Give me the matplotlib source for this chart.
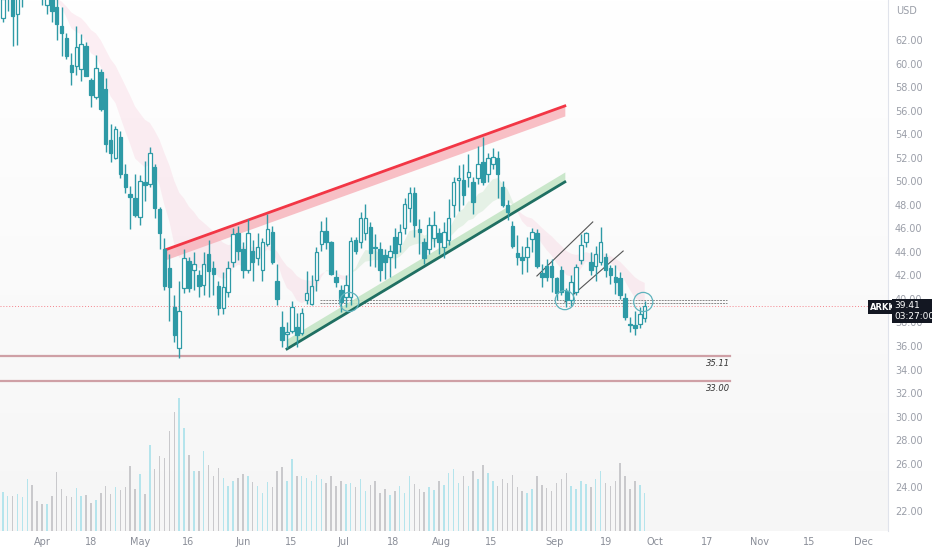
import matplotlib
matplotlib.use("Agg")
import matplotlib.pyplot as plt
import numpy as np
import pandas as pd
from matplotlib.colors import LinearSegmentedColormap

# ---------------- data ----------------
bar_index = list(range(-8, 124))
opens = [63.9,66.0,65.5,64.2,65.8,67.0,67.5,67.0,66.5,65.0,66.0,
         64.8,63.2,62.2,59.9,59.8,59.5,61.5,58.6,57.2,59.3,57.8,53.5,52.0,53.8,50.6,48.9,48.6,47.0,49.9,49.8,51.2,47.6,
         44.2,42.6,39.3,35.8,40.9,43.2,42.5,42.0,41.2,43.8,42.6,41.1,39.2,40.6,43.1,45.6,44.2,42.5,44.1,43.5,42.5,44.7,45.7,41.5,
         37.6,37.0,37.3,37.6,37.1,39.9,39.6,41.6,44.7,45.8,44.8,41.9,40.8,40.2,40.2,45.0,44.8,45.6,46.1,44.4,44.2,43.7,43.6,45.3,
         44.7,46.0,47.7,49.0,45.9,44.8,44.2,45.2,45.6,44.4,45.0,48.0,50.1,50.1,50.4,49.9,50.3,51.6,50.6,51.5,52.0,49.5,48.0,
         46.2,43.9,43.6,43.6,45.1,45.6,42.2,42.8,42.8,41.8,42.5,40.7,39.9,40.6,43.3,44.8,43.1,42.8,43.1,43.6,42.6,41.9,41.8,40.1,
         37.9,37.8,37.9,38.4]
highs = [66.0,67.0,66.5,66.0,67.0,68.0,68.5,67.5,67.0,66.5,66.5,
         65.5,64.8,62.6,60.9,63.2,62.5,61.8,58.8,60.7,59.5,58.8,54.9,54.7,54.3,51.5,49.6,50.6,50.5,51.7,52.9,51.5,47.8,
         45.2,43.8,40.3,41.5,44.2,43.6,44.0,42.5,44.0,45.0,43.2,41.5,42.3,43.2,46.0,46.2,44.8,46.8,45.0,45.6,45.2,47.2,46.2,43.0,
         39.0,38.0,39.8,38.8,39.2,42.4,42.0,44.4,46.6,47.0,44.9,42.5,41.2,42.0,45.3,45.3,47.4,48.1,46.5,45.5,44.8,44.2,44.6,46.0,
         46.4,48.6,49.5,49.5,46.8,45.2,47.0,47.5,46.0,46.5,48.5,50.4,51.4,51.5,52.3,50.4,53.0,53.8,52.4,52.8,52.6,50.0,48.4,
         46.6,45.4,44.5,45.3,46.0,45.9,43.0,43.4,43.4,41.9,42.8,40.9,42.0,43.0,45.5,45.7,44.0,44.5,46.1,43.9,42.9,42.9,42.3,40.5,
         38.5,39.0,39.3,39.8]
lows = [63.5,64.5,61.5,61.6,64.8,66.0,66.5,66.0,65.0,64.2,63.5,
        62.0,60.6,60.4,58.2,59.0,58.5,58.9,56.3,57.0,56.0,52.5,51.6,51.9,50.3,49.0,45.9,47.0,46.3,48.3,49.5,46.9,44.2,
        40.8,38.1,36.3,35.0,40.5,40.6,40.8,40.2,40.3,40.2,40.3,38.6,38.7,40.2,42.7,43.3,41.8,42.2,41.5,42.9,41.5,44.5,43.0,39.5,
        35.9,35.8,37.1,35.9,36.9,39.6,39.5,40.7,44.1,44.2,42.0,41.0,38.9,39.3,39.5,43.8,44.3,45.0,42.8,42.7,41.5,41.7,41.9,42.6,
        44.0,45.5,46.5,45.3,43.8,43.0,43.8,44.4,43.8,43.5,44.6,47.0,47.5,48.0,49.5,47.2,49.8,49.7,49.9,51.0,48.6,47.8,46.7,
        44.3,42.9,42.1,42.3,44.0,42.6,41.0,41.5,40.6,39.9,40.3,39.3,39.4,40.3,43.0,44.4,42.0,41.5,42.9,41.9,41.3,40.4,40.0,38.2,
        37.2,36.9,37.5,38.0]
closes = [65.5,66.5,64.0,65.8,66.5,67.5,67.0,66.2,65.6,66.0,64.5,
          63.4,62.6,60.6,59.3,61.4,61.7,58.9,57.3,59.6,56.1,53.2,52.4,54.4,50.6,49.5,48.7,47.1,50.0,49.7,52.4,47.7,45.6,
          41.1,41.0,36.9,39.0,43.5,40.9,43.0,41.1,43.0,42.4,42.1,39.2,41.0,42.6,45.5,44.1,42.5,45.6,43.1,44.4,44.8,45.9,43.1,40.0,
          36.5,37.2,39.3,36.9,38.8,40.5,41.1,44.0,45.8,44.8,42.1,41.4,39.7,41.2,44.9,44.1,46.9,46.9,43.9,44.3,42.5,43.1,44.1,43.9,
          45.7,48.1,49.0,46.3,45.7,43.5,46.3,46.3,44.8,45.7,46.9,49.9,50.3,48.8,50.8,48.2,51.5,49.9,52.0,52.1,50.6,48.0,47.4,
          44.5,43.6,43.3,44.4,45.7,42.8,41.9,41.9,41.9,40.5,40.6,39.9,41.4,42.7,44.6,45.6,42.5,43.8,44.8,42.5,42.0,41.4,40.3,38.5,
          37.8,37.5,38.7,39.41]
volumes = [39,35,35,37,34,52,46,30,27,27,35,59,42,35,34,43,35,36,28,31,38,45,37,44,41,44,65,42,57,37,86,62,75,73,100,119,133,
           103,76,60,60,80,66,55,63,53,45,50,53,57,55,49,45,38,49,44,60,64,50,72,55,55,53,50,56,52,48,55,45,50,47,
           48,44,52,40,46,50,38,42,36,40,45,38,55,47,42,39,44,41,50,46,58,62,48,55,45,60,52,66,
           58,50,45,52,48,56,44,40,38,42,55,46,43,40,48,52,58,45,42,50,47,44,52,60,48,45,50,68,55,42,50,46,38]

date_tick_pos = [0, 10, 20, 29.8, 41, 50.8, 61.6, 71.6, 81.6, 91.6, 104.7, 115.1, 125.1, 135.7, 146.5, 156.5, 167.6]
date_tick_labels = ['Apr', '18', 'May', '16', 'Jun', '15', 'Jul', '18', 'Aug', '15', 'Sep', '19', 'Oct', '17', 'Nov', '15', 'Dec']
price_ticks = [22, 24, 26, 28, 30, 32, 34, 36, 38, 40, 42, 44, 46, 48, 50, 52, 54, 56, 58, 60, 62]

support_levels = [35.11, 33.00]
last_price = 39.41
resist_x, resist_y = [25.1, 106.7], [44.16, 56.4]
support_x, support_y = [50.0, 106.7], [35.75, 49.94]
chan1_x, chan1_y = [101.0, 112.4], [41.95, 46.54]
chan2_x, chan2_y = [106.7, 118.6], [39.74, 44.07]
zone_x, zone_y = [56.7, 139.8], [39.9, 39.65]
circle_x, circle_y = [62.7, 106.7, 122.7], [39.74, 39.9, 39.74]

# ---------------- drawing ----------------
TEAL = '#2e9aa6'
x = np.array(bar_index, dtype=float)
o = np.array(opens); h = np.array(highs); l = np.array(lows); c = np.array(closes)
XL = (-8.57, 172.65)
YL = (20.28, 65.4)

fig = plt.figure(figsize=(9.32, 5.5), dpi=100)
fig.patch.set_facecolor('white')
rect = [0, 19/550, 888/932, 531/550]

# volume / background axis (behind)
axv = fig.add_axes(rect)
axv.set_xlim(*XL)
axv.set_ylim(0, 531)
grad = np.linspace(0, 1, 256).reshape(-1, 1)
cm = LinearSegmentedColormap.from_list('bg', ['#f6f6f6', '#ffffff'])
axv.imshow(grad, aspect='auto', cmap=cm, extent=[XL[0], XL[1], 0, 531], origin='lower', zorder=0)
vcol = ['#b5e4ec' if cc >= oo else '#c9c9cc' for oo, cc in zip(o, c)]
axv.bar(x, volumes, width=0.32, color=vcol, zorder=1)
axv.set_xlim(*XL); axv.set_ylim(0, 531)
axv.axis('off')

ax = fig.add_axes(rect)
ax.patch.set_visible(False)
ax.set_xlim(*XL)
ax.set_ylim(*YL)

# EMA ribbon
cs = pd.Series(c)
fast = cs.ewm(span=9, adjust=False).mean().values
slow = cs.ewm(span=21, adjust=False).mean().values
ax.fill_between(x, fast, slow, where=fast >= slow, color='#4caf50', alpha=0.12, lw=0, interpolate=True, zorder=1)
ax.fill_between(x, fast, slow, where=fast < slow, color='#e91e63', alpha=0.07, lw=0, interpolate=True, zorder=1)

# support lines
for lvl in support_levels:
    ax.plot([XL[0], 140.4], [lvl, lvl], color='#cfa0a6', lw=1.6, zorder=2)
    ax.text(140.4, lvl - 0.25, f'{lvl:.2f}', ha='right', va='top', fontsize=6, style='italic', color='#333333')

# last price line
ax.axhline(last_price, color='#f23645', lw=0.7, ls=(0, (1, 2)), alpha=0.6, zorder=2)

# zone lines
for zy in zone_y:
    ax.plot(zone_x, [zy, zy], color='#888888', lw=0.7, ls=(0, (2, 1)), zorder=2)

# resistance band
ax.fill_between(resist_x, resist_y, [v - 0.85 for v in resist_y], color='#f7b0b8', alpha=0.8, lw=0, zorder=2)
ax.plot(resist_x, resist_y, color='#f23645', lw=2, zorder=3)
# support band
ax.fill_between(support_x, support_y, [v + 0.85 for v in support_y], color='#c5e5c6', alpha=0.9, lw=0, zorder=2)
ax.plot(support_x, support_y, color='#1f6f62', lw=2, zorder=3)

# small channel
ax.plot(chan1_x, chan1_y, color='#555555', lw=0.8, zorder=3)
ax.plot(chan2_x, chan2_y, color='#555555', lw=0.8, zorder=3)

# candles
ax.vlines(x, l, h, color=TEAL, lw=1.0, zorder=4)
up = c >= o
ax.bar(x[up], (c - o)[up], bottom=o[up], width=0.7, facecolor='white', edgecolor=TEAL, lw=0.9, zorder=5)
ax.bar(x[~up], (o - c)[~up], bottom=c[~up], width=0.7, facecolor=TEAL, edgecolor=TEAL, lw=0.9, zorder=5)

# circles
ax.scatter(circle_x, circle_y, s=190, facecolors='none', edgecolors='#5fb3bd', linewidths=0.9, zorder=6)

# axes styling
for k in ['top', 'left', 'bottom']:
    ax.spines[k].set_visible(False)
ax.spines['right'].set_color('#e0e3eb')
ax.yaxis.tick_right()
ax.set_yticks(price_ticks)
ax.set_yticklabels([f'{t:.2f}' for t in price_ticks])
ax.tick_params(axis='y', length=0, pad=5, labelsize=7, labelcolor='#9a9ea8')
ax.set_xticks(date_tick_pos)
ax.set_xticklabels(date_tick_labels)
ax.tick_params(axis='x', length=0, pad=4, labelsize=7, labelcolor='#8a8e98')

fig.text(896/932, 1 - 11/550, 'USD', fontsize=7, color='#9a9ea8', va='center', ha='left')
fig.text(870/932, 1 - 307/550, 'ARKK', fontsize=6, color='white', va='center', ha='left', fontweight='bold',
         bbox=dict(boxstyle='square,pad=0.25', fc='#131722', ec='none'))
fig.text(894/932, 1 - 311/550, f'{last_price:.2f}\n03:27:00', fontsize=6.5, color='white', va='center', ha='left',
         linespacing=1.15, bbox=dict(boxstyle='square,pad=0.25', fc='#131722', ec='none'))

fig.savefig('out.png', dpi=100)
